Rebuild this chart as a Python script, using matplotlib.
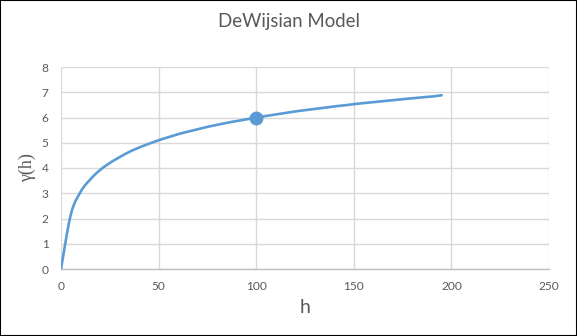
import matplotlib
matplotlib.use("Agg")
import matplotlib.pyplot as plt
import numpy as np
from matplotlib.patches import Rectangle

h = [0, 5, 10, 15, 20, 25, 30, 35, 40, 45, 50, 55, 60, 65, 70, 75, 80, 85, 90, 95,
     100, 105, 110, 115, 120, 125, 130, 135, 140, 145, 150, 155, 160, 165, 170, 175,
     180, 185, 190, 195]
gamma = [0, 2.15, 3.05, 3.55, 3.92, 4.20, 4.43, 4.64, 4.81, 4.96, 5.10, 5.22, 5.34,
         5.44, 5.54, 5.63, 5.71, 5.79, 5.86, 5.93, 6.00, 6.06, 6.12, 6.18, 6.24, 6.29,
         6.34, 6.39, 6.44, 6.48, 6.53, 6.57, 6.61, 6.65, 6.69, 6.73, 6.76, 6.80, 6.83,
         6.88]
point_h = [100]
point_gamma = [6]
x_ticks = [0, 50, 100, 150, 200, 250]
y_ticks = [0, 1, 2, 3, 4, 5, 6, 7, 8]
title = "DeWijsian Model"

plt.rcParams['font.family'] = ['Lato', 'DejaVu Sans']
blue = "#5B9BD5"
grey = "#595959"


def smooth(xs, ys, n=16):
    # Catmull-Rom style smoothing of the drawn path (like a spreadsheet "smoothed line")
    x = np.asarray(xs, float)
    y = np.asarray(ys, float)
    px = np.concatenate([[x[0]], x, [x[-1]]])
    py = np.concatenate([[y[0]], y, [y[-1]]])
    ox, oy = [], []
    t = np.linspace(0, 1, n, endpoint=False)
    for i in range(1, len(px) - 2):
        p0, p1, p2, p3 = (np.array([px[j], py[j]]) for j in (i - 1, i, i + 1, i + 2))
        m1 = (p2 - p0) / 6.0 * 1.0
        m2 = (p3 - p1) / 6.0 * 1.0
        c1 = p1 + m1
        c2 = p2 - m2
        for tt in t:
            b = ((1 - tt) ** 3) * p1 + 3 * ((1 - tt) ** 2) * tt * c1 + 3 * (1 - tt) * tt ** 2 * c2 + tt ** 3 * p2
            ox.append(b[0]); oy.append(b[1])
    ox.append(x[-1]); oy.append(y[-1])
    return ox, oy


fig = plt.figure(figsize=(5.77, 3.36), dpi=100)
ax = fig.add_axes([61/577, 1-269/336, (549-61)/577, (269-67)/336])

sx, sy = smooth(h, gamma)
ax.plot(sx, sy, color=blue, lw=1.9, solid_capstyle='round', zorder=3)
ax.plot(point_h, point_gamma, 'o', color=blue, ms=9, zorder=4)

ax.set_xlim(0, 250)
ax.set_ylim(0, 8)
ax.set_xticks(x_ticks)
ax.set_yticks(y_ticks)
ax.grid(True, color="#D9D9D9", lw=1)
ax.set_axisbelow(True)
for s in ['top', 'right', 'left']:
    ax.spines[s].set_visible(False)
ax.spines['bottom'].set_color("#BFBFBF")
ax.spines['bottom'].set_linewidth(1)
ax.tick_params(length=0, labelsize=8.6, labelcolor=grey, pad=9)
ax.tick_params(axis='y', pad=9)

fig.text(0.5, 1-22/336, title, ha='center', va='center', fontsize=13.4, color=grey)
ax.set_xlabel("h", fontsize=14, color=grey, labelpad=5)
ax.set_ylabel("γ(h)", fontsize=13, color=grey, family=['Liberation Serif', 'DejaVu Serif'], labelpad=4)

fig.add_artist(Rectangle((0, 0), 1, 1, transform=fig.transFigure, fill=False,
                         edgecolor='black', lw=1.5))
fig.savefig("out.png", dpi=100)
